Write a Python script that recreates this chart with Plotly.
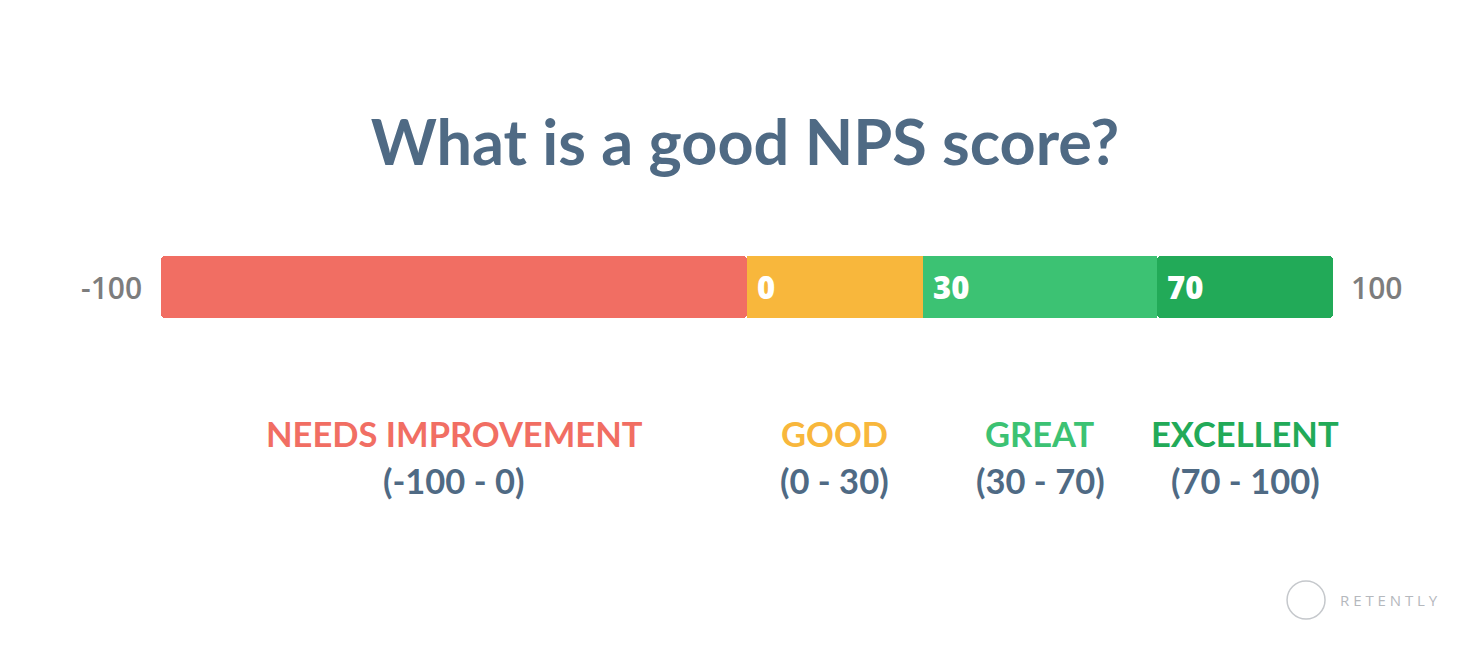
import plotly.graph_objects as go

# NPS ranges
categories = ['NEEDS IMPROVEMENT', 'GOOD', 'GREAT', 'EXCELLENT']
seg_start = [-100, 0, 30, 70]
seg_end = [0, 30, 70, 100]
range_labels = ['(-100 - 0)', '(0 - 30)', '(30 - 70)', '(70 - 100)']
colors = ['#f16e63', '#f8b73c', '#3cc273', '#22aa58']
axis_min, axis_max = -100, 100

TITLE_COLOR = '#4f6a84'
GRAY = '#7d7d7d'

W, H = 1472, 650  # page body has an 8px margin

fig = go.Figure()

for i, (s, e, c) in enumerate(zip(seg_start, seg_end, colors)):
    # outer ends get rounded corners: draw those segments from the inside out
    if i == 0:
        base, width, radius = e, s - e, 4
    elif i == len(seg_start) - 1:
        base, width, radius = s, e - s, 4
    else:
        base, width, radius = s, e - s, 0
    fig.add_trace(go.Bar(
        y=[0], x=[width], base=[base],
        orientation='h',
        width=1,
        marker=dict(color=c, line=dict(width=0), cornerradius=radius),
        hovertemplate=f'{categories[i]} {range_labels[i]}<extra></extra>',
        showlegend=False,
    ))

annotations = []

# end values either side of the bar
annotations.append(dict(x=axis_min, y=0.5, xref='x', yref='paper', text=str(axis_min),
                        xanchor='right', yanchor='middle', xshift=-17, showarrow=False,
                        font=dict(family='Open Sans', size=30, color=GRAY, weight=600)))
annotations.append(dict(x=axis_max, y=0.5, xref='x', yref='paper', text=str(axis_max),
                        xanchor='left', yanchor='middle', xshift=16, showarrow=False,
                        font=dict(family='Open Sans', size=30, color=GRAY, weight=600)))

# segment start values inside the bar
for s in seg_start[1:]:
    annotations.append(dict(x=s, y=0.5, xref='x', yref='paper', text=str(s),
                            xanchor='left', yanchor='middle', xshift=8, showarrow=False,
                            font=dict(family='Open Sans', size=31, color='white', weight=800)))

# category names and ranges under the bar
for cat, s, e, rl, c in zip(categories, seg_start, seg_end, range_labels, colors):
    mid = (s + e) / 2
    annotations.append(dict(x=mid, y=0, xref='x', yref='paper', text=cat,
                            xanchor='center', yanchor='middle', yshift=-115, showarrow=False,
                            font=dict(family='Lato', size=34.5, color=c, weight='bold')))
    annotations.append(dict(x=mid, y=0, xref='x', yref='paper', text=rl,
                            xanchor='center', yanchor='middle', yshift=-162, showarrow=False,
                            font=dict(family='Lato', size=34.5, color=TITLE_COLOR, weight='bold')))

# logo text
annotations.append(dict(x=1, y=0, xref='paper', yref='paper', text='R E T E N T L Y',
                        xanchor='left', yanchor='middle', xshift=5, yshift=-282, showarrow=False,
                        font=dict(family='Open Sans', size=15, color='#b5b8bd')))

fig.update_layout(
    width=W, height=H,
    margin=dict(l=153, r=147, t=248, b=340, pad=0),
    paper_bgcolor='white', plot_bgcolor='white',
    barmode='overlay',
    bargap=0,
    title=dict(text='What is a good NPS score?', x=(745 - 8) / W, xanchor='center',
               y=1 - 135 / H, yanchor='middle',
               font=dict(family='Lato', size=63, color=TITLE_COLOR, weight='bold')),
    xaxis=dict(range=[axis_min, axis_max], visible=False, fixedrange=True),
    yaxis=dict(range=[-0.5, 0.5], visible=False, fixedrange=True),
    annotations=annotations,
    shapes=[dict(type='circle', xref='paper', yref='paper',
                 x0=0.9608, x1=0.9932, y0=-4.855, y1=-4.242,
                 line=dict(color='#c5c8cc', width=1.5), fillcolor='rgba(0,0,0,0)')],
)

fig.write_html('out.html')
